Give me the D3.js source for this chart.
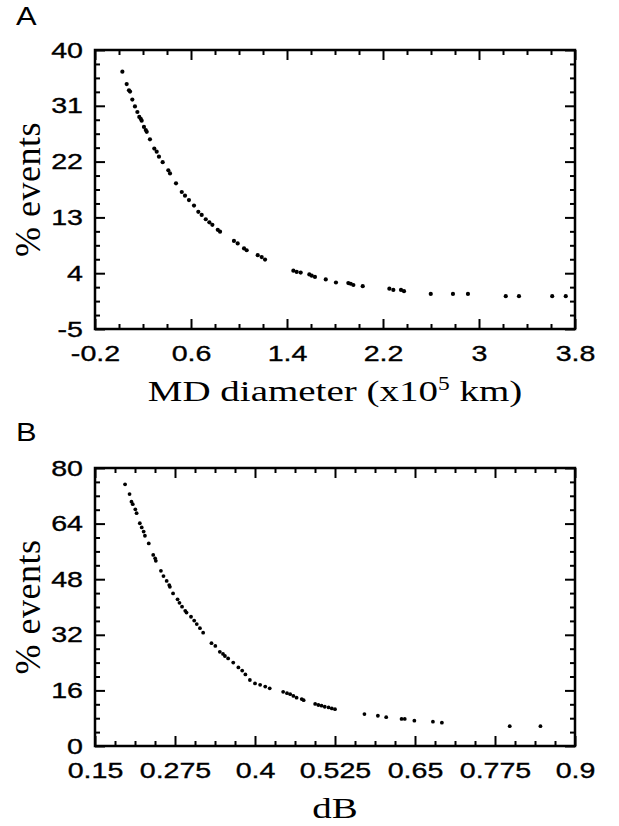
<!DOCTYPE html>
<html>
<head>
<meta charset="utf-8">
<script src="https://cdn.jsdelivr.net/npm/d3@7"></script>
<style>
  body { margin: 0; background: #fff; }
  svg { display: block; }
</style>
</head>
<body>
<div id="chart"></div>
<script>
// Panel A: MD diameter (x10^5 km) vs % events
const diamA = [0.028, 0.064, 0.083, 0.092, 0.111, 0.133, 0.153, 0.169, 0.181, 0.189,
  0.208, 0.223, 0.231, 0.258, 0.294, 0.314, 0.333, 0.364, 0.411, 0.425,
  0.475, 0.523, 0.55, 0.583, 0.625, 0.661, 0.689, 0.723, 0.753, 0.778,
  0.823, 0.842, 0.958, 0.989, 1.042, 1.064, 1.156, 1.189, 1.217,
  1.453, 1.481, 1.514, 1.586, 1.606, 1.633, 1.723, 1.808, 1.911, 1.931,
  1.953, 2.031, 2.253, 2.286, 2.35, 2.375, 2.598, 2.783, 2.908,
  3.223, 3.333, 3.61, 3.723];
const eventsA = [36.5, 34.5, 33.5, 33.3, 32.0, 30.9, 30.0, 29.2, 28.9, 28.6,
  27.6, 27.1, 26.8, 25.6, 24.1, 23.6, 22.8, 21.9, 20.6, 20.1,
  18.5, 17.1, 16.5, 15.8, 14.9, 13.9, 13.4, 12.7, 12.2, 11.8,
  11.0, 10.7, 9.2, 8.8, 8.0, 7.7, 6.9, 6.6, 6.2,
  4.4, 4.2, 4.1, 3.8, 3.6, 3.4, 3.0, 2.5, 2.4, 2.3,
  2.1, 1.9, 1.5, 1.3, 1.3, 1.1, 0.65, 0.65, 0.65,
  0.3, 0.3, 0.3, 0.3];
const xTicksA = [-0.2, 0.6, 1.4, 2.2, 3, 3.8];
const yTicksA = [-5, 4, 13, 22, 31, 40];

// Panel B: dB vs % events
const dbB = [0.197, 0.204, 0.207, 0.209, 0.213, 0.215, 0.220, 0.223, 0.226, 0.228,
  0.234, 0.241, 0.244, 0.245, 0.253, 0.257, 0.262, 0.266, 0.267, 0.272,
  0.279, 0.282, 0.286, 0.291, 0.293, 0.300, 0.305, 0.309, 0.314, 0.319,
  0.332, 0.338, 0.345, 0.350, 0.353, 0.358, 0.366, 0.374, 0.380, 0.385,
  0.392, 0.400, 0.408, 0.416, 0.423, 0.444, 0.450, 0.455, 0.460, 0.465,
  0.473, 0.476, 0.494, 0.499, 0.504, 0.509, 0.515, 0.520, 0.525,
  0.571, 0.592, 0.605, 0.629, 0.634, 0.649, 0.678, 0.692, 0.798, 0.846];
const eventsB = [75.3, 72.5, 70.3, 69.6, 68.1, 67.0, 64.1, 62.9, 61.7, 60.5,
  58.3, 55.0, 54.0, 53.3, 50.4, 48.9, 47.5, 46.3, 45.8, 43.9,
  42.2, 41.2, 40.1, 38.9, 38.4, 37.2, 36.1, 35.1, 33.9, 32.6,
  29.6, 28.8, 27.1, 26.5, 25.9, 25.2, 24.0, 22.6, 21.7, 20.6,
  19.0, 18.0, 17.6, 17.1, 16.6, 15.6, 15.2, 14.9, 14.4, 13.9,
  13.5, 13.2, 12.1, 11.8, 11.6, 11.3, 11.1, 10.8, 10.6,
  9.2, 8.7, 8.3, 7.8, 7.8, 7.3, 7.0, 6.7, 5.7, 5.7];
const xTicksB = [0.15, 0.275, 0.4, 0.525, 0.65, 0.775, 0.9];
const yTicksB = [0, 16, 32, 48, 64, 80];

const W = 619, H = 826;
const stretch = 1.3; // the figure text is widened horizontally

const svg = d3.select("#chart").append("svg")
    .attr("width", W)
    .attr("height", H);

function minorTicks(ticks, n) {
    const out = [];
    for (let i = 0; i < ticks.length - 1; i++) {
        const step = (ticks[i + 1] - ticks[i]) / n;
        for (let k = 1; k < n; k++) out.push(ticks[i] + k * step);
    }
    return out;
}

function drawPanel(opt) {
    const g = svg.append("g").attr("transform", `translate(${opt.left},${opt.top})`);
    const w = opt.width, h = opt.height;

    const x = d3.scaleLinear().domain(d3.extent(opt.xTicks)).range([0, w]);
    const y = d3.scaleLinear().domain(d3.extent(opt.yTicks)).range([h, 0]);

    const xMinor = minorTicks(opt.xTicks, 4);
    const yMinor = minorTicks(opt.yTicks, 4);

    // Axes with inward ticks on all four sides
    const sides = [
        { ax: d3.axisBottom(x), tr: `translate(0,${h})`, labels: true, vals: opt.xTicks, minor: xMinor },
        { ax: d3.axisTop(x), tr: "translate(0,0)", labels: false, vals: opt.xTicks, minor: xMinor },
        { ax: d3.axisLeft(y), tr: "translate(0,0)", labels: true, vals: opt.yTicks, minor: yMinor },
        { ax: d3.axisRight(y), tr: `translate(${w},0)`, labels: false, vals: opt.yTicks, minor: yMinor }
    ];

    sides.forEach((s, i) => {
        const major = g.append("g")
            .attr("transform", s.tr)
            .call(s.ax.tickValues(s.vals).tickSize(-10).tickSizeOuter(0)
                .tickPadding(i === 0 ? 16 : 12)
                .tickFormat(s.labels ? d => String(d) : ""));
        const minor = g.append("g")
            .attr("transform", s.tr)
            .call(s.ax.tickValues(s.minor).tickSize(-5).tickSizeOuter(0).tickFormat(""));
        [major, minor].forEach(a => {
            a.select(".domain").remove();
            a.selectAll("line").attr("stroke", "#000").attr("stroke-width", 2);
        });
        major.selectAll("text")
            .style("font-family", "'Liberation Sans', Arial, sans-serif")
            .style("font-size", "22px")
            .attr("fill", "#000")
            .attr("stroke", "#000")
            .attr("stroke-width", 0.35)
            .each(function() {
                const t = d3.select(this);
                const tx = +t.attr("x") || 0;
                t.attr("x", 0).attr("transform", `translate(${tx},0) scale(${stretch},1)`);
            });
    });

    // Frame
    g.append("rect")
        .attr("width", w)
        .attr("height", h)
        .attr("fill", "none")
        .attr("stroke", "#000")
        .attr("stroke-width", 2.5);

    // Points
    g.selectAll("circle")
        .data(opt.xs.map((d, i) => [d, opt.ys[i]]))
        .enter()
        .append("circle")
        .attr("cx", d => x(d[0]))
        .attr("cy", d => y(d[1]))
        .attr("r", opt.r)
        .attr("fill", "#000");

    // Panel letter
    svg.append("text")
        .attr("transform", `translate(16,${opt.letterY}) scale(${stretch * 0.95},1)`)
        .style("font-family", "'Liberation Sans', Arial, sans-serif")
        .style("font-size", "25px")
        .text(opt.letter);

    // X title
    const xt = svg.append("text")
        .attr("transform", `translate(${opt.left + w / 2},${opt.xTitleY}) scale(${stretch},1)`)
        .attr("text-anchor", "middle")
        .style("font-family", "'Liberation Serif', 'Times New Roman', serif")
        .style("font-size", "30px");
    opt.xTitle(xt);

    // Y title
    svg.append("text")
        .attr("transform", `translate(40,${opt.top + h / 2}) rotate(-90)`)
        .attr("text-anchor", "middle")
        .style("font-family", "'Liberation Serif', 'Times New Roman', serif")
        .style("font-size", "36px")
        .style("letter-spacing", "0.5px")
        .text("% events");
}

drawPanel({
    left: 95, top: 50, width: 480, height: 279,
    xTicks: xTicksA, yTicks: yTicksA, xs: diamA, ys: eventsA, r: 2.1,
    letter: "A", letterY: 25, xTitleY: 401,
    xTitle: t => {
        t.append("tspan").text("MD diameter (x10");
        t.append("tspan").attr("dy", -11).style("font-size", "18px").text("5");
        t.append("tspan").attr("dy", 11).text(" km)");
    }
});

drawPanel({
    left: 95, top: 468, width: 480, height: 278,
    xTicks: xTicksB, yTicks: yTicksB, xs: dbB, ys: eventsB, r: 1.9,
    letter: "B", letterY: 441, xTitleY: 818,
    xTitle: t => t.text("dB")
});
</script>
</body>
</html>
